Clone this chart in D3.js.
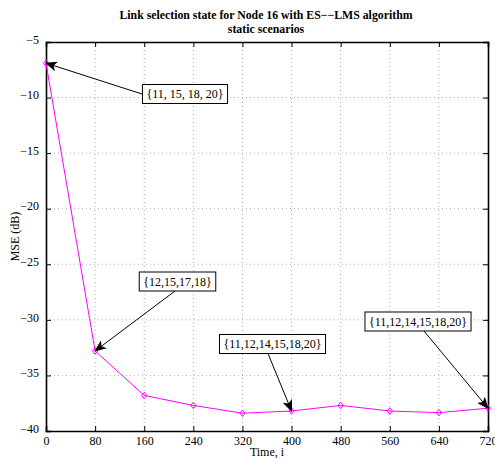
<!DOCTYPE html>
<html>
<head>
<meta charset="utf-8">
<script src="https://cdn.jsdelivr.net/npm/d3@7"></script>
<style>
  body { margin: 0; background: #fff; }
  text { font-family: "Liberation Serif", "DejaVu Serif", serif; }
</style>
</head>
<body>
<div id="chart"></div>
<script>
// data
const times = [0, 80, 160, 240, 320, 400, 480, 560, 640, 720];
const mse = [-6.9, -32.8, -36.8, -37.7, -38.4, -38.2, -37.7, -38.2, -38.35, -37.95];
const xTicks = [0, 80, 160, 240, 320, 400, 480, 560, 640, 720];
const yTicks = [-5, -10, -15, -20, -25, -30, -35, -40];
const noteLabels = ["{11, 15, 18, 20}", "{12,15,17,18}", "{11,12,14,15,18,20}", "{11,12,14,15,18,20}"];
const noteTimes = [0, 80, 400, 720];

// annotation layout (box centre, arrow start)
const noteLayout = [
    { bx: 185, by: 94, sx: 142, sy: 94 },
    { bx: 177.5, by: 281.5, sx: 175, sy: 291 },
    { bx: 272.5, by: 344, sx: 268, sy: 353.5 },
    { bx: 418, by: 321.5, sx: 424, sy: 331 }
];

const dims = { width: 495, height: 458 };
const margin = { top: 42, right: 7, bottom: 27, left: 46 };
const width = dims.width - margin.left - margin.right;
const height = dims.height - margin.top - margin.bottom;

const svg = d3.select("#chart")
    .append("svg")
        .attr("width", dims.width)
        .attr("height", dims.height);

const g = svg.append("g")
    .attr("transform", "translate(" + margin.left + "," + margin.top + ")");

const x = d3.scaleLinear().domain([0, 720]).range([0, width]);
const y = d3.scaleLinear().domain([-40, -5]).range([height, 0]);

// title
const title = svg.append("text")
    .attr("text-anchor", "middle")
    .attr("font-size", 11.8)
    .attr("font-weight", "bold");
title.append("tspan").attr("x", margin.left + width / 2 - 1).attr("y", 19)
    .text("Link selection state for Node 16 with ES\u2212\u2212LMS algorithm");
title.append("tspan").attr("x", margin.left + width / 2 - 1).attr("y", 33)
    .text("static scenarios");

// grid
g.append("g").selectAll("line")
    .data(xTicks.slice(1, -1))
    .enter().append("line")
        .attr("x1", d => x(d)).attr("x2", d => x(d))
        .attr("y1", 0).attr("y2", height)
        .attr("stroke", "#999").attr("stroke-width", 0.8)
        .attr("stroke-dasharray", "1,3");
g.append("g").selectAll("line")
    .data(yTicks.slice(1, -1))
    .enter().append("line")
        .attr("y1", d => y(d)).attr("y2", d => y(d))
        .attr("x1", 0).attr("x2", width)
        .attr("stroke", "#999").attr("stroke-width", 0.8)
        .attr("stroke-dasharray", "1,3");

// axes (inward ticks, MATLAB style box)
const fmt = d => d < 0 ? "\u2212" + Math.abs(d) : d;
const xAxis = g.append("g")
    .attr("transform", "translate(0," + height + ")")
    .call(d3.axisBottom(x).tickValues(xTicks).tickSize(-5).tickPadding(5).tickFormat(fmt));
const xTop = g.append("g")
    .call(d3.axisTop(x).tickValues(xTicks).tickSize(-5).tickFormat(""));
const yAxis = g.append("g")
    .call(d3.axisLeft(y).tickValues(yTicks).tickSize(-5).tickPadding(7).tickFormat(fmt));
const yRight = g.append("g")
    .attr("transform", "translate(" + width + ",0)")
    .call(d3.axisRight(y).tickValues(yTicks).tickSize(-5).tickFormat(""));

[xAxis, xTop, yAxis, yRight].forEach(a => {
    a.select(".domain").attr("stroke", "#000").attr("stroke-width", 1.6);
    a.selectAll(".tick line").attr("stroke", "#000").attr("stroke-width", 1);
    a.selectAll("text")
        .attr("font-family", "Liberation Serif")
        .attr("font-size", 12)
        .attr("fill", "#000");
});
yAxis.selectAll("text").attr("dy", "0.1em");

// axis labels
svg.append("text")
    .attr("x", margin.left + width / 2)
    .attr("y", 456)
    .attr("text-anchor", "middle")
    .attr("font-size", 12)
    .text("Time, i");
svg.append("text")
    .attr("transform", "rotate(-90)")
    .attr("x", -(margin.top + height / 2))
    .attr("y", 19)
    .attr("text-anchor", "middle")
    .attr("font-size", 12)
    .text("MSE (dB)");

// series line
const data = times.map((t, i) => ({ t: t, v: mse[i] }));
g.append("path")
    .datum(data)
    .attr("fill", "none")
    .attr("stroke", "#ff00ff")
    .attr("stroke-width", 1)
    .attr("d", d3.line().x(d => x(d.t)).y(d => y(d.v)));

// diamond markers
g.append("g").selectAll("path")
    .data(data)
    .enter().append("path")
        .attr("transform", d => "translate(" + x(d.t) + "," + y(d.v) + ")")
        .attr("d", "M0,-3.2L2.6,0L0,3.2L-2.6,0Z")
        .attr("fill", "none")
        .attr("stroke", "#ff00ff")
        .attr("stroke-width", 1);

// arrow head marker
svg.append("defs").append("marker")
    .attr("id", "head")
    .attr("viewBox", "0 0 12 10")
    .attr("refX", 11).attr("refY", 5)
    .attr("markerWidth", 12).attr("markerHeight", 10)
    .attr("markerUnits", "userSpaceOnUse")
    .attr("orient", "auto")
    .append("path")
        .attr("d", "M0,0L12,5L0,10L3,5Z")
        .attr("fill", "#000");

// annotations
noteLabels.forEach((label, i) => {
    const lay = noteLayout[i];
    const t0 = noteTimes[i];
    const v = mse[times.indexOf(t0)];
    const px = margin.left + x(t0), py = margin.top + y(v);

    svg.append("line")
        .attr("x1", lay.sx).attr("y1", lay.sy)
        .attr("x2", px).attr("y2", py)
        .attr("stroke", "#000").attr("stroke-width", 1)
        .attr("marker-end", "url(#head)");

    const grp = svg.append("g");
    const t = grp.append("text")
        .attr("x", lay.bx).attr("y", lay.by + 4)
        .attr("text-anchor", "middle")
        .attr("font-size", 12)
        .text(label);
    const bw = t.node().getBBox().width + 8, bh = 19;
    grp.insert("rect", "text")
        .attr("x", lay.bx - bw / 2).attr("y", lay.by - bh / 2)
        .attr("width", bw).attr("height", bh)
        .attr("fill", "#fff").attr("stroke", "#000").attr("stroke-width", 1);
});
</script>
</body>
</html>
